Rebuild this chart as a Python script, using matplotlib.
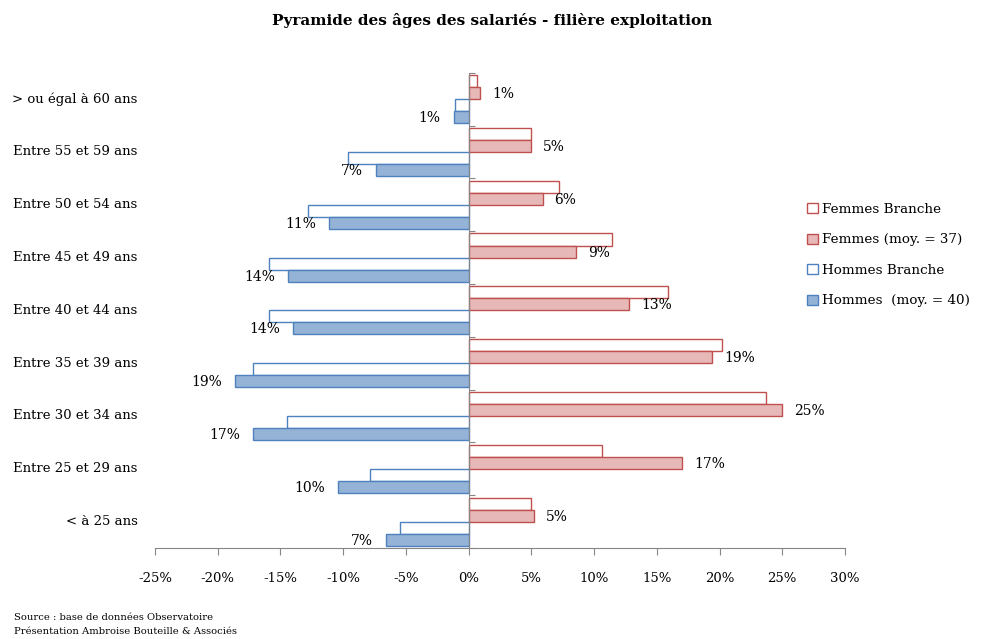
import numpy as np
import matplotlib.pyplot as plt
from matplotlib.transforms import blended_transform_factory

plt.rcParams['font.family'] = ['DejaVu Serif']

# Tranches d'âge, de la plus jeune (en bas) à la plus âgée (en haut)
categories = ["< à 25 ans", "Entre 25 et 29 ans", "Entre 30 et 34 ans",
              "Entre 35 et 39 ans", "Entre 40 et 44 ans", "Entre 45 et 49 ans",
              "Entre 50 et 54 ans", "Entre 55 et 59 ans", "> ou égal à 60 ans"]

# Répartition en % (hommes en négatif)
femmes_branche = [5.0, 10.6, 23.7, 20.2, 15.9, 11.4, 7.2, 5.0, 0.7]
femmes = [5.2, 17.0, 25.0, 19.4, 12.8, 8.6, 5.9, 5.0, 0.9]
hommes_branche = [-5.5, -7.9, -14.5, -17.2, -15.9, -15.9, -12.8, -9.6, -1.1]
hommes = [-6.6, -10.4, -17.2, -18.6, -14.0, -14.4, -11.1, -7.4, -1.2]

xticks = [-25, -20, -15, -10, -5, 0, 5, 10, 15, 20, 25, 30]

red, red_fill = '#C0504D', '#E6B9B8'
blue, blue_fill = '#4F81BD', '#95B3D7'
fs = 9.5

fig = plt.figure(figsize=(9.84, 6.39), dpi=100)
ax = fig.add_axes([0.1575, 0.1424, 0.7012, 0.7438])

y = np.arange(len(categories))
h = 0.228
series = [
    (femmes_branche, 1.5 * h, 'white', red, "Femmes Branche"),
    (femmes, 0.5 * h, red_fill, red, "Femmes (moy. = 37)"),
    (hommes_branche, -0.5 * h, 'white', blue, "Hommes Branche"),
    (hommes, -1.5 * h, blue_fill, blue, "Hommes  (moy. = 40)"),
]
for vals, off, fc, ec, lab in series:
    ax.barh(y + off, vals, height=h, color=fc, edgecolor=ec, linewidth=1.0, label=lab)

# Étiquettes de valeurs sur les séries pleines
for i in range(len(categories)):
    ax.annotate(f"{abs(femmes[i]):.0f}%", (femmes[i], y[i] + 0.5 * h),
                xytext=(12, -1), textcoords='offset pixels',
                ha='left', va='center', fontsize=fs + 0.5)
    ax.annotate(f"{abs(hommes[i]):.0f}%", (hommes[i], y[i] - 1.5 * h),
                xytext=(-13, -1), textcoords='offset pixels',
                ha='right', va='center', fontsize=fs + 0.5)

ax.set_xlim(-25, 30)
ax.set_ylim(-0.5, len(categories) - 0.5)
ax.set_xticks(xticks, [f"{t}%" for t in xticks], fontsize=fs)
ax.tick_params(axis='x', direction='out', length=5, color='#868686', pad=12)

# Axe vertical à zéro, graduations entre les tranches
ax.spines['left'].set_position(('data', 0))
ax.set_yticks(np.arange(len(categories) + 1) - 0.5, [])
ax.tick_params(axis='y', direction='in', length=4, color='#868686')
for s in ['top', 'right']:
    ax.spines[s].set_visible(False)
for s in ['left', 'bottom']:
    ax.spines[s].set_color('#868686')

trans = blended_transform_factory(ax.transAxes, ax.transData)
for i, c in enumerate(categories):
    ax.text(-0.025, y[i], c, transform=trans, ha='right', va='center', fontsize=fs)

handles, labels = ax.get_legend_handles_labels()
ax.legend(handles, labels, loc='center left', bbox_to_anchor=(0.928, 0.616),
          frameon=False, fontsize=fs + 0.2, labelspacing=1.3,
          handlelength=0.75, handleheight=0.75, handletextpad=0.3)

fig.text(0.5, 0.968, "Pyramide des âges des salariés - filière exploitation",
         ha='center', va='center', fontsize=11, fontweight='bold')
fig.text(0.014, 0.034, "Source : base de données Observatoire", fontsize=7.2, va='center')
fig.text(0.014, 0.012, "Présentation Ambroise Bouteille & Associés", fontsize=7.2, va='center')

fig.savefig('out.png', dpi=100)
